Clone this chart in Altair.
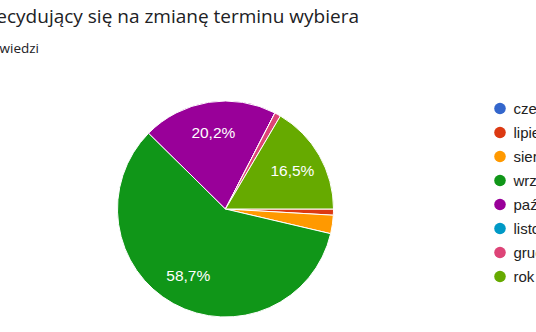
import math
import altair as alt
import pandas as pd

# --- data ---
categories = ["czerwiec", "lipiec", "sierpień", "wrzesień", "październik",
              "listopad", "grudzień", "rok akademicki"]
counts = [0, 1, 3, 64, 22, 0, 1, 18]
slice_labels = ["", "", "", "58,7%", "20,2%", "", "", "16,5%"]
colors = ["#3366CC", "#DC3912", "#FF9900", "#109618", "#990099",
          "#0099C6", "#DD4477", "#66AA00"]
title_text = ["Student decydujący się na zmianę terminu wybiera"]
subtitle_text = ["109 odpowiedzi"]

df = pd.DataFrame({
    "kategoria": categories,
    "liczba": counts,
    "etykieta": slice_labels,
    "kolejnosc": list(range(len(categories))),
})

theta = alt.Theta("liczba:Q", stack=True,
                  scale=alt.Scale(range=[math.pi / 2, math.pi / 2 + 2 * math.pi]))
order = alt.Order("kolejnosc:Q", sort="ascending")

base = alt.Chart(df).encode(theta=theta, order=order)

pie = base.mark_arc(radius=108, stroke="white", strokeWidth=1).encode(
    x=alt.value(225.5),
    y=alt.value(209),
    color=alt.Color(
        "kategoria:N",
        sort=categories,
        scale=alt.Scale(domain=categories, range=colors),
        legend=alt.Legend(
            orient="none", legendX=492.5, legendY=101, title=None,
            symbolType="circle", symbolSize=133, symbolStrokeWidth=0,
            symbolOpacity=1, labelFontSize=15, labelFont="Liberation Sans",
            labelColor="#222222", rowPadding=8, labelOffset=6, padding=0,
            labelLimit=0,
        ),
    ),
)

labels = base.mark_text(radius=77, color="white", fontSize=15.5,
                        font="Liberation Sans", align="center",
                        baseline="middle").encode(
    x=alt.value(225.5),
    y=alt.value(209),
    text="etykieta:N",
)

title = alt.Chart(pd.DataFrame({"t": title_text})).mark_text(
    align="right", baseline="alphabetic", fontSize=19, font="Open Sans",
    color="#202124").encode(x=alt.value(359), y=alt.value(23), text="t:N")

subtitle = alt.Chart(pd.DataFrame({"t": subtitle_text})).mark_text(
    align="right", baseline="alphabetic", fontSize=13.5, font="Open Sans",
    color="#202124").encode(x=alt.value(39), y=alt.value(53), text="t:N")

chart = alt.layer(pie, labels, title, subtitle).properties(
    width=536, height=332,
    autosize=alt.AutoSizeParams(type="none"),
    padding=0,
).configure_view(stroke=None)

chart.save("out.html", embed_options={"renderer": "svg", "actions": False})
